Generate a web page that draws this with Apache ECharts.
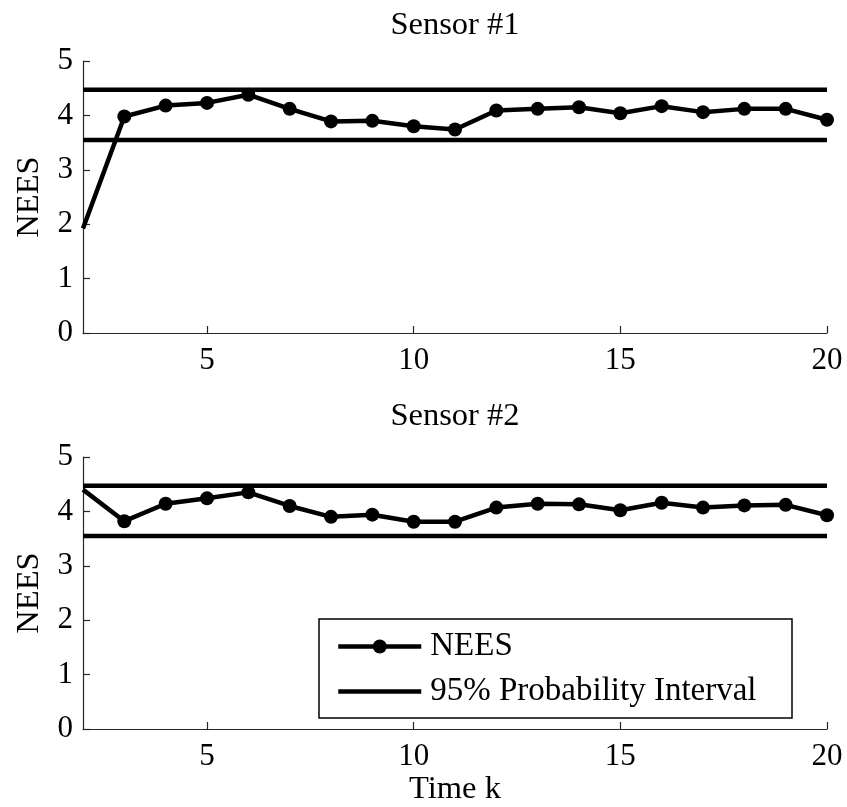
<!DOCTYPE html>
<html>
<head>
<meta charset="utf-8">
<script src="https://cdn.jsdelivr.net/npm/echarts@6/dist/echarts.min.js"></script>
<style>
  html, body { margin: 0; padding: 0; background: #fff; }
  #chart { width: 847px; height: 807px; }
</style>
</head>
<body>
<div id="chart"></div>
<script>
// ---- data ----
const timeK = [2, 3, 4, 5, 6, 7, 8, 9, 10, 11, 12, 13, 14, 15, 16, 17, 18, 19, 20];
const sensor1NEES = [1.92, 3.98, 4.18, 4.23, 4.38, 4.12, 3.89, 3.90, 3.80, 3.74, 4.09, 4.12, 4.15, 4.04, 4.17, 4.06, 4.12, 4.12, 3.92];
const sensor2NEES = [4.40, 3.82, 4.14, 4.24, 4.35, 4.10, 3.90, 3.94, 3.81, 3.81, 4.07, 4.14, 4.13, 4.02, 4.16, 4.07, 4.11, 4.12, 3.93];
const intervalLower = 3.55;
const intervalUpper = 4.47;
const xRange = [2, 20];
const xTickValues = [5, 10, 15, 20];
const yTickValues = [0, 1, 2, 3, 4, 5];
const titles = ['Sensor #1', 'Sensor #2'];
const yName = 'NEES';
const xName = 'Time k';
const legendNames = ['NEES', '95% Probability Interval'];

// ---- styling ----
const FONT = 'Liberation Serif, Times New Roman, serif';
const FS = 31;      // tick labels
const FS_T = 32.5;  // titles & axis names
const FS_L = 33;    // legend
const AXIS_COLOR = '#262626';
const LINE_W = 4.5;

function neesData(values) {
  return timeK.map((k, i) => {
    const item = { value: [k, values[i]] };
    if (i === 0) item.symbolSize = 0;
    return item;
  });
}
function boundData(v) {
  return [[xRange[0], v], [xRange[1], v]];
}

const grids = [
  { left: 83, right: 20, top: 61, height: 272 },
  { left: 83, right: 20, top: 457, height: 273 }
];

function xAxis(gi, withName) {
  return {
    type: 'value', gridIndex: gi, min: xRange[0], max: xRange[1],
    axisLine: { show: true, lineStyle: { color: AXIS_COLOR, width: 1.2 } },
    axisTick: { show: true, inside: true, length: 7, customValues: xTickValues, lineStyle: { color: AXIS_COLOR, width: 1.2 } },
    axisLabel: { customValues: xTickValues, color: '#000', fontFamily: FONT, fontSize: FS, margin: 12 },
    splitLine: { show: false },
    name: withName ? xName : '',
    nameLocation: 'middle', nameGap: 44,
    nameTextStyle: { color: '#000', fontFamily: FONT, fontSize: FS_T }
  };
}
function yAxis(gi) {
  return {
    type: 'value', gridIndex: gi, min: yTickValues[0], max: yTickValues[yTickValues.length - 1], interval: 1,
    axisLine: { show: true, lineStyle: { color: AXIS_COLOR, width: 1.2 } },
    axisTick: { show: true, inside: true, length: 7, lineStyle: { color: AXIS_COLOR, width: 1.2 } },
    axisLabel: { color: '#000', fontFamily: FONT, fontSize: FS, margin: 10, padding: [6, 0, 0, 0] },
    splitLine: { show: false },
    name: yName, nameLocation: 'middle', nameGap: 37,
    nameTextStyle: { color: '#000', fontFamily: FONT, fontSize: FS_T }
  };
}

const series = [];
[sensor1NEES, sensor2NEES].forEach((vals, gi) => {
  [intervalUpper, intervalLower].forEach(v => {
    series.push({
      name: legendNames[1], type: 'line', xAxisIndex: gi, yAxisIndex: gi,
      data: boundData(v), symbol: 'none', silent: true,
      lineStyle: { color: '#000', width: LINE_W }, itemStyle: { color: '#000' },
      z: 2
    });
  });
  series.push({
    name: legendNames[0], type: 'line', xAxisIndex: gi, yAxisIndex: gi,
    data: neesData(vals), symbol: 'circle', symbolSize: 14, showAllSymbol: true,
    lineStyle: { color: '#000', width: LINE_W }, itemStyle: { color: '#000' },
    z: 3
  });
});

const chart = echarts.init(document.getElementById('chart'), null, { renderer: 'canvas' });
chart.setOption({
  animation: false,
  backgroundColor: '#fff',
  grid: grids,
  xAxis: [xAxis(0, false), xAxis(1, true)],
  yAxis: [yAxis(0), yAxis(1)],
  graphic: [
    { type: 'text', x: 455, y: 9, style: { text: titles[0], font: FS_T + 'px ' + FONT, fill: '#000', textAlign: 'center', textVerticalAlign: 'top' } },
    { type: 'text', x: 455, y: 400, style: { text: titles[1], font: FS_T + 'px ' + FONT, fill: '#000', textAlign: 'center', textVerticalAlign: 'top' } },
    { type: 'rect', shape: { x: 319, y: 619, width: 473, height: 99 }, style: { fill: '#fff', stroke: '#000', lineWidth: 1.5 }, z: 90 }
  ],
  legend: {
    data: [
      { name: legendNames[0] },
      { name: legendNames[1], icon: 'path://M0,0H83V4.5H0Z' }
    ],
    orient: 'vertical', left: 336, top: 630, padding: 0,
    itemWidth: 83, itemHeight: 17.5, itemGap: 12,
    symbolKeepAspect: true,
    lineStyle: { color: '#000', width: LINE_W },
    itemStyle: { color: '#000' },
    textStyle: { color: '#000', fontFamily: FONT, fontSize: FS_L, padding: [0, 0, 0, 4] },
    inactiveColor: '#000', selectedMode: false, z: 100
  },
  series: series
});
</script>
</body>
</html>
